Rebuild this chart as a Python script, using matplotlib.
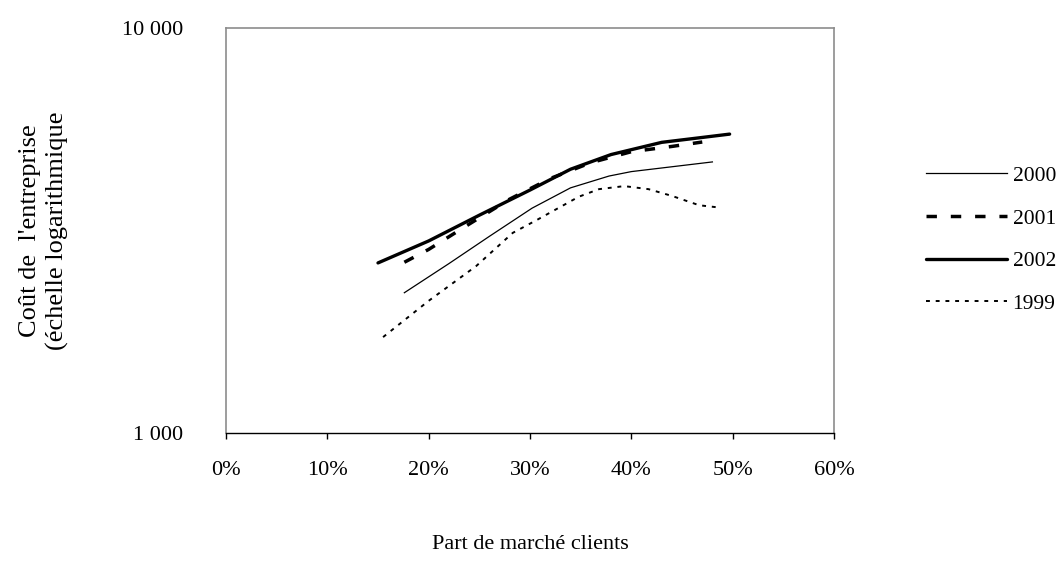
import matplotlib.pyplot as plt
from matplotlib.ticker import FixedLocator, FuncFormatter

plt.rcParams['font.family'] = ['Liberation Serif', 'DejaVu Serif']

# values (x = market share in %, y = cost)
x_2000 = [17.6, 22, 26, 30.2, 34, 37.8, 40, 48]
y_2000 = [2220, 2620, 3060, 3590, 4030, 4310, 4420, 4670]

x_2001 = [17.6, 20, 24, 28, 32, 36, 40, 44, 47]
y_2001 = [2640, 2840, 3280, 3780, 4250, 4650, 4950, 5100, 5230]

x_2002 = [15.0, 20, 25, 30, 34, 38, 43, 46, 49.7]
y_2002 = [2630, 2980, 3450, 3980, 4480, 4870, 5220, 5330, 5470]

x_1999 = [15.5, 20, 24.7, 28.3, 30.7, 34.8, 36.8, 39.3, 41.7, 44, 46.7, 48.4]
y_1999 = [1725, 2120, 2585, 3120, 3360, 3830, 4000, 4070, 4000, 3850, 3650, 3610]

x_ticks = [0, 10, 20, 30, 40, 50, 60]
y_ticks = [1000, 10000]

fig = plt.figure(figsize=(10.63, 5.65), dpi=100)
ax = fig.add_axes([226 / 1063, 1 - 433 / 565, 608 / 1063, 405 / 565])

ax.plot(x_2000, y_2000, color='black', lw=0.9, label='2000')
ax.plot(x_2001, y_2001, color='black', lw=2.5, linestyle=(0, (3, 4)), label='2001')
ax.plot(x_2002, y_2002, color='black', lw=2.4, solid_capstyle='round', label='2002')
ax.plot(x_1999, y_1999, color='black', lw=1.4, linestyle=(0, (2, 3)), label='1999')

ax.set_yscale('log')
ax.set_ylim(1000, 10000)
ax.set_xlim(0, 60)
ax.xaxis.set_major_locator(FixedLocator(x_ticks))
ax.xaxis.set_major_formatter(FuncFormatter(lambda v, p: f"{v:.0f}%"))
ax.yaxis.set_major_locator(FixedLocator(y_ticks))
ax.yaxis.set_minor_locator(FixedLocator([]))
ax.yaxis.set_major_formatter(FuncFormatter(lambda v, p: f"{v:,.0f}".replace(',', ' ')))

for side in ['left', 'top', 'right']:
    ax.spines[side].set_color('#8c8c8c')
    ax.spines[side].set_linewidth(1.2)
ax.spines['bottom'].set_color('black')
ax.spines['bottom'].set_linewidth(1.0)

ax.tick_params(axis='x', direction='out', length=4, width=1, pad=16, labelsize=16)
ax.tick_params(axis='y', length=0, pad=31, labelsize=16)

ax.set_xlabel('Part de marché clients', fontsize=16)
ax.xaxis.set_label_coords(0.5, -0.252)
ax.set_ylabel("Coût de  l'entreprise\n(échelle logarithmique", fontsize=19,
              linespacing=1.3)
ax.yaxis.set_label_coords(-0.258, 0.5)

ax.legend(loc='center left', bbox_to_anchor=(1.151, 0.477), frameon=False,
          fontsize=15.5, handlelength=3.75, handletextpad=0.28, labelspacing=1.05,
          borderpad=0, borderaxespad=0)

fig.savefig('out.png', dpi=100)
